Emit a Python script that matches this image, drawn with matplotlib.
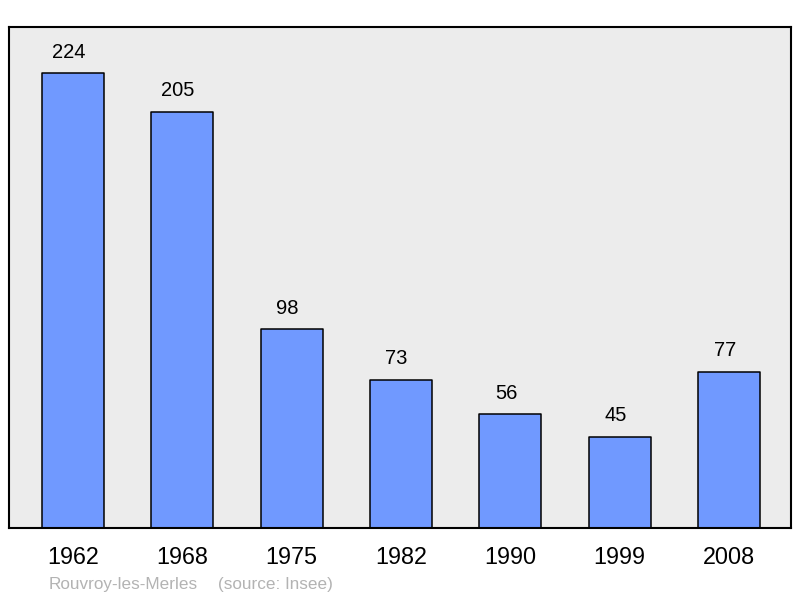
import matplotlib.pyplot as plt

years = ["1962", "1968", "1975", "1982", "1990", "1999", "2008"]
population = [224, 205, 98, 73, 56, 45, 77]
commune = "Rouvroy-les-Merles"
source = "(source: Insee)"

plt.rcParams['font.family'] = ['Liberation Sans', 'DejaVu Sans']

fig = plt.figure(figsize=(8, 5.98), dpi=100)
ax = fig.add_axes([9 / 800, 1 - 528 / 598, 782 / 800, 501 / 598])
ax.set_facecolor('#ececec')

x = list(range(len(years)))
bars = ax.bar(x, population, width=0.567, color='#7099ff', edgecolor='black',
              linewidth=1.1, joinstyle='round', zorder=2)
for xi, v in zip(x, population):
    ax.text(xi - 0.04, v + 10.3, str(v), ha='center', va='center', fontsize=14.5)

ax.set_xlim(-0.585, 6.567)
ax.set_ylim(0, 246.7)
ax.set_yticks([])
ax.set_xticks(x)
ax.set_xticklabels(years, fontsize=16.8)
ax.tick_params(axis='x', length=0, pad=13)
for s in ax.spines.values():
    s.set_linewidth(1.5)
    s.set_joinstyle('round')

fig.text(49 / 800, 1 - 584.5 / 598, commune, fontsize=12.3,
         color='#b3b3b3', va='center', ha='left')
fig.text(218 / 800, 1 - 584.5 / 598, source, fontsize=12.3,
         color='#b3b3b3', va='center', ha='left')

fig.savefig('out.png', dpi=100)
